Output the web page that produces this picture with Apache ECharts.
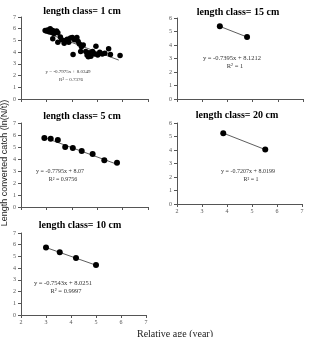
<!DOCTYPE html>
<html>
<head>
<meta charset="utf-8">
<script src="https://cdn.jsdelivr.net/npm/echarts@6/dist/echarts.min.js"></script>
<style>
  html, body { margin: 0; padding: 0; background: #fff; }
  #chart { width: 312px; height: 337px; }
</style>
</head>
<body>
<div id="chart"></div>
<script>
// relative age (x), ln(N/t) (y)
var class1 = [
  [2.95, 5.85], [3.0, 5.8], [3.05, 5.9], [3.1, 5.75], [3.15, 6.0], [3.2, 5.7],
  [3.25, 5.85], [3.3, 5.6], [3.35, 5.75], [3.4, 5.8], [3.45, 5.65], [3.25, 5.15],
  [3.45, 4.85], [3.55, 5.3], [3.6, 5.05], [3.7, 4.75], [3.75, 5.0], [3.82, 5.1],
  [3.88, 4.85], [3.95, 5.2], [4.02, 5.25], [4.1, 5.05], [4.2, 5.25], [4.25, 4.9],
  [4.05, 3.8], [4.3, 4.7], [4.38, 4.45], [4.45, 4.6], [4.35, 4.05], [4.55, 4.05],
  [4.6, 3.75], [4.68, 3.95], [4.65, 3.6], [4.75, 3.65], [4.82, 4.05], [4.9, 3.85],
  [4.95, 4.5], [5.02, 3.75], [5.1, 4.0], [5.2, 3.85], [5.3, 3.9], [5.45, 4.3],
  [5.52, 3.8], [5.9, 3.72]
]
var class5 = [
  [2.92, 5.75], [3.17, 5.69], [3.45, 5.58], [3.74, 5.0], [4.04, 4.92],
  [4.39, 4.67], [4.82, 4.42], [5.28, 3.89], [5.78, 3.69]
]
var class10 = [[3.0, 5.76], [3.55, 5.35], [4.2, 4.86], [5.0, 4.26]]
var class15 = [[3.7, 5.38], [4.78, 4.59]]
var class20 = [[3.85, 5.25], [5.53, 4.03]]

// trend line end points
var trend1 = [[2.95, 5.68], [5.85, 3.32]]
var trend5 = [[2.92, 5.79], [5.78, 3.56]]
var trend10 = [[3.0, 5.76], [5.0, 4.25]]
var trend15 = [[3.7, 5.38], [4.78, 4.59]]
var trend20 = [[3.85, 5.25], [5.53, 4.03]]

var titles = ['length class= 1 cm', 'length class= 15 cm', 'length class= 5 cm',
  'length class= 20 cm', 'length class= 10 cm']
var equations = ['y = -0.7975x + 8.0349', 'y = -0.7395x + 8.1212', 'y = -0.7795x + 8.07',
  'y = -0.7207x + 8.0199', 'y = -0.7543x + 8.0251']
var rsquared = ['R² = 0.7376', 'R² = 1', 'R² = 0.9756', 'R² = 1', 'R² = 0.9997']
var yMax = [7, 6, 7, 6, 7]
var showXLabels = [false, false, false, true, true]

var panelData = [class1, class15, class5, class20, class10]
var panelTrend = [trend1, trend15, trend5, trend20, trend10]

var grids = [
  { left: 21, top: 17, width: 127, height: 82 },
  { left: 177, top: 18, width: 126, height: 81 },
  { left: 21, top: 123, width: 127, height: 84 },
  { left: 177, top: 123, width: 125, height: 81 },
  { left: 21, top: 233, width: 125, height: 82 }
]
// title / equation centres
var titlePos = [[82, 11], [238, 12], [82, 116], [237, 115], [80, 225]]
var eqPos = [[68, 72], [232, 58], [60, 171], [248, 171], [63, 283]]
var eqSize = [5, 6.5, 6, 6, 6.5]
var dotSize = [5.5, 6, 6, 6, 6]

var serif = '"Liberation Serif", "DejaVu Serif", serif'
var axisColor = '#555'

var option = {
  animation: false,
  grid: [],
  xAxis: [],
  yAxis: [],
  series: [],
  graphic: []
}

grids.forEach(function(g, i) {
  option.grid.push({
    left: g.left, top: g.top, width: g.width, height: g.height,
    outerBoundsMode: 'none', containLabel: false
  })
  option.xAxis.push({
    gridIndex: i,
    type: 'value',
    min: 2, max: 7, interval: 1,
    axisLine: { lineStyle: { color: axisColor, width: 1 } },
    axisTick: { show: true, length: 3, lineStyle: { color: axisColor } },
    axisLabel: {
      show: showXLabels[i], color: '#555', fontSize: 6,
      fontFamily: serif, margin: 4
    },
    splitLine: { show: false }
  })
  option.yAxis.push({
    gridIndex: i,
    type: 'value',
    min: 0, max: yMax[i], interval: 1,
    axisLine: { show: true, lineStyle: { color: axisColor, width: 1 } },
    axisTick: { show: true, length: 3, lineStyle: { color: axisColor } },
    axisLabel: { color: '#555', fontSize: 6, fontFamily: serif, margin: 5 },
    splitLine: { show: false }
  })
  option.series.push({
    type: 'line',
    xAxisIndex: i, yAxisIndex: i,
    data: panelTrend[i],
    symbol: 'none',
    lineStyle: { color: '#333', width: 0.8 },
    z: 1
  })
  option.series.push({
    type: 'scatter',
    xAxisIndex: i, yAxisIndex: i,
    data: panelData[i],
    symbol: 'circle',
    symbolSize: dotSize[i],
    itemStyle: { color: '#000', opacity: 1 },
    z: 2
  })
  option.graphic.push({
    type: 'text',
    x: titlePos[i][0], y: titlePos[i][1],
    style: {
      text: titles[i], fill: '#000', font: 'bold 10px ' + serif,
      align: 'center', verticalAlign: 'middle'
    }
  })
  option.graphic.push({
    type: 'text',
    x: eqPos[i][0], y: eqPos[i][1],
    style: {
      text: equations[i], fill: '#333', font: eqSize[i] + 'px ' + serif,
      align: 'center', verticalAlign: 'middle'
    }
  })
  option.graphic.push({
    type: 'text',
    x: eqPos[i][0] + 3, y: eqPos[i][1] + 8,
    style: {
      text: rsquared[i], fill: '#333', font: eqSize[i] + 'px ' + serif,
      align: 'center', verticalAlign: 'middle'
    }
  })
})

// shared axis names
option.graphic.push({
  type: 'text',
  x: 5, y: 163,
  rotation: Math.PI / 2,
  style: {
    text: 'Length converted catch (ln(N/t))', fill: '#222',
    font: '9px "Liberation Sans", Arial, sans-serif',
    align: 'center', verticalAlign: 'middle'
  }
})
option.graphic.push({
  type: 'text',
  x: 175, y: 334,
  style: {
    text: 'Relative age (year)', fill: '#222', font: '10px ' + serif,
    align: 'center', verticalAlign: 'middle'
  }
})

var myChart = echarts.init(document.getElementById('chart'))
myChart.setOption(option)
</script>
</body>
</html>
